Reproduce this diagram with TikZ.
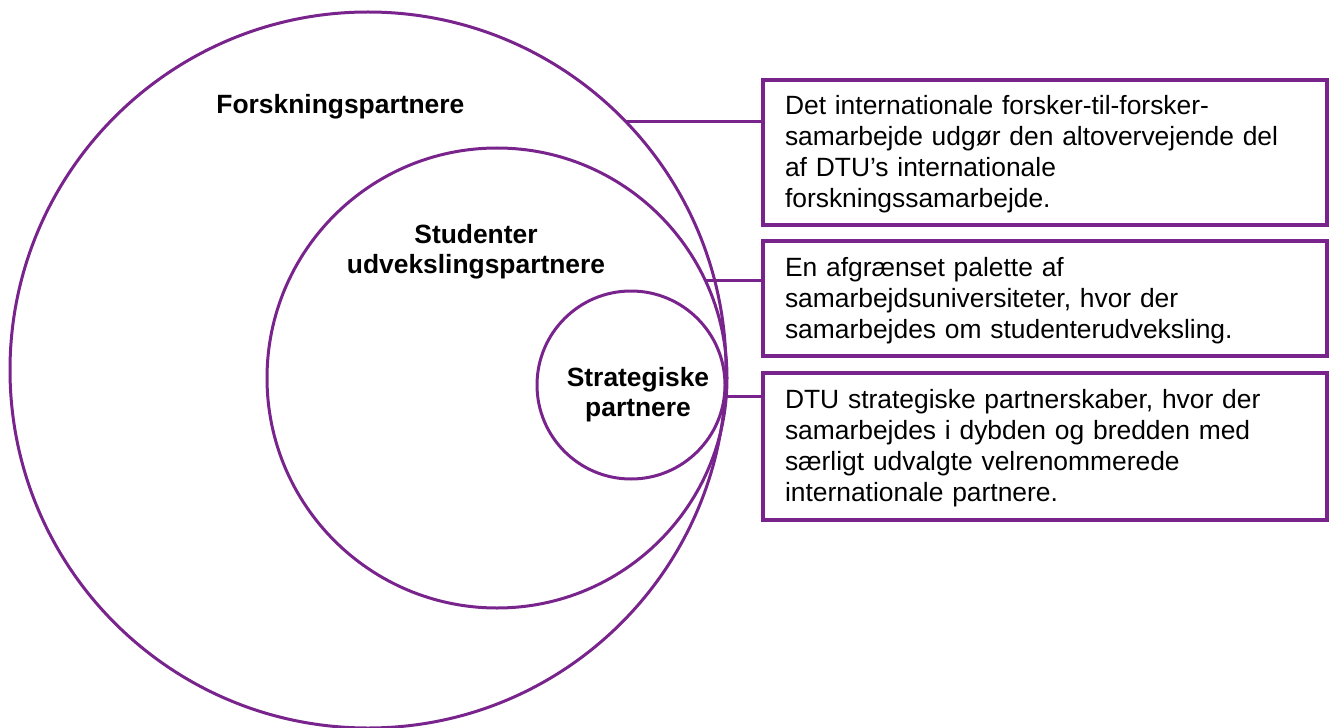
\documentclass[tikz,border=0pt]{standalone}
\usepackage{fontspec}
\setmainfont{Liberation Sans}
\usepackage{tikz}
\usetikzlibrary{positioning}
\definecolor{dtupurple}{RGB}{121,36,141}
\tikzstyle{ring}=[circle,draw=dtupurple,line width=1.5pt,inner sep=0pt,outer sep=0pt]
\tikzstyle{ringlabel}=[inner sep=0pt,align=center,font=\fontsize{13.2}{15}\selectfont\bfseries]
\tikzstyle{infobox}=[draw=dtupurple,line width=1.8pt,outer sep=0pt,minimum width=282pt,inner xsep=11pt,text width=260pt,align=left,text height=11.5pt,font=\fontsize{13.2}{15.5}\selectfont]
\tikzstyle{connector} = [draw=dtupurple,line width=1.5pt]

\begin{document}
\begin{tikzpicture}[x=0.5pt,y=-0.5pt]
        \useasboundingbox (0,0) rectangle (1331,727);
        \node[ring,minimum size=358pt] (forsk) at (368,370) {};
        \node[ring,minimum size=230pt] (stud) at (497,378) {};
        \node[ring,minimum size=94pt] (strat) at (631,385) {};
        \node[ringlabel,anchor=base west] (forsklabel) at (216,114) {Forskningspartnere};
        \node[ringlabel,anchor=base] (studlabel) at (476,273) {Studenter\\udvekslingspartnere};
        \node[ringlabel,anchor=base] (stratlabel) at (638,416) {Strategiske\\partnere};
        \node[infobox,anchor=north west,minimum height=72.5pt] (box1) at (763,80) {Det internationale forsker-til-forsker-\\samarbejde udgør den altovervejende del\\af DTU’s internationale\\forskningssamarbejde.};
        \node[infobox,below=8pt of box1.south west,anchor=north west,minimum height=57.5pt] (box2) {En afgrænset palette af\\samarbejdsuniversiteter, hvor der\\samarbejdes om studenterudveksling.};
        \node[infobox,below=8.5pt of box2.south west,anchor=north west,minimum height=73.5pt] (box3) {DTU strategiske partnerskaber, hvor der\\samarbejdes i dybden og bredden med\\særligt udvalgte velrenommerede\\internationale partnere.};
        \draw[connector] (forsk.44) to (forsk.44 -| box1.west);
        \draw[connector] (stud.25) to (stud.25 -| box2.west);
        \draw[connector] (strat.-7) to (strat.-7 -| box3.west);
      \end{tikzpicture}
\end{document}
